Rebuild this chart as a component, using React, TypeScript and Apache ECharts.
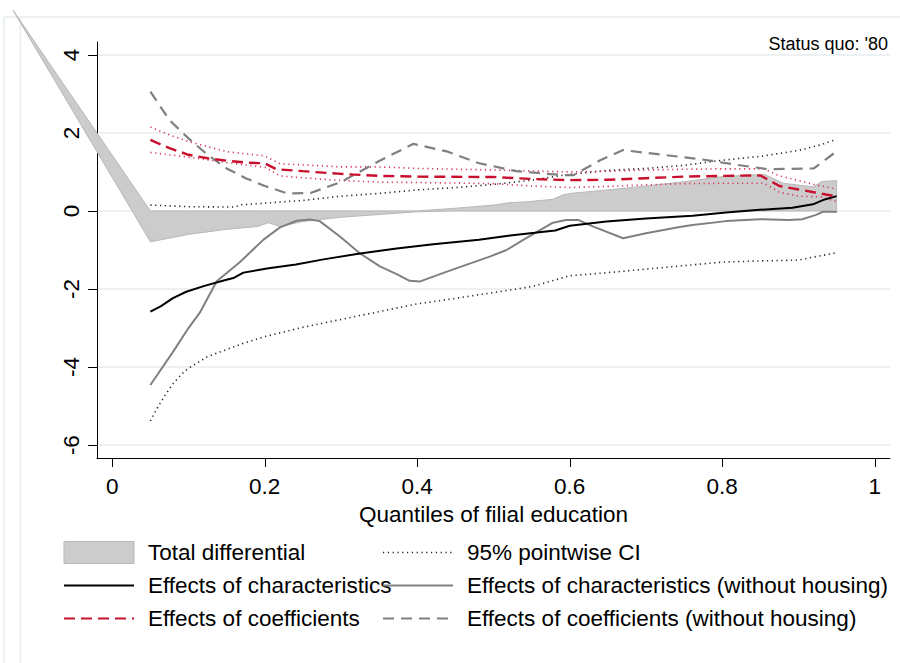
import React, { useEffect, useRef } from "react";
import * as echarts from "echarts";

const FONT = "'Liberation Sans', Arial, Helvetica, sans-serif";

const xTickValues = [0, 0.2, 0.4, 0.6, 0.8, 1];
const yTickValues = [-6, -4, -2, 0, 2, 4];

const legendLeft = ["Total differential", "Effects of characteristics", "Effects of coefficients"];
const legendRight = [
  "95% pointwise CI",
  "Effects of characteristics (without housing)",
  "Effects of coefficients (without housing)",
];

// Total differential band
const bandQuantiles = [-0.13, 0.05, 0.1, 0.15, 0.19, 0.205, 0.22, 0.25, 0.3, 0.35, 0.4, 0.45, 0.5, 0.52, 0.547, 0.578, 0.591, 0.6, 0.65, 0.7, 0.75, 0.8, 0.855, 0.88, 0.91, 0.92, 0.93, 0.95];
const bandUpper = [5.14, 0, 0, 0, 0, 0, 0, 0, 0, 0, 0, 0.07, 0.15, 0.21, 0.24, 0.3, 0.41, 0.45, 0.54, 0.64, 0.75, 0.88, 0.94, 0.71, 0.64, 0.62, 0.75, 0.78];
const bandLower = [5.14, -0.79, -0.6, -0.47, -0.4, -0.3, -0.4, -0.27, -0.16, -0.09, -0.02, 0, 0, 0, 0, 0, 0, 0, 0, 0, 0, 0, 0, 0, 0, 0, 0, -0.04];

const charEffects = [
  [0.05, -2.58], [0.064, -2.44], [0.079, -2.24], [0.097, -2.07], [0.121, -1.92], [0.145, -1.79],
  [0.16, -1.71], [0.172, -1.58], [0.205, -1.47], [0.241, -1.37], [0.277, -1.24], [0.325, -1.09],
  [0.373, -0.96], [0.421, -0.85], [0.481, -0.74], [0.517, -0.64], [0.554, -0.56], [0.581, -0.5],
  [0.6, -0.38], [0.648, -0.27], [0.7, -0.19], [0.761, -0.12], [0.805, -0.04], [0.849, 0.03],
  [0.892, 0.08], [0.919, 0.17], [0.932, 0.28], [0.95, 0.38],
];

const charEffectsNoHousing = [
  [0.05, -4.46], [0.079, -3.63], [0.1, -3.0], [0.115, -2.6], [0.137, -1.8], [0.168, -1.3],
  [0.198, -0.74], [0.22, -0.42], [0.242, -0.25], [0.259, -0.22], [0.272, -0.26], [0.299, -0.66],
  [0.325, -1.09], [0.351, -1.42], [0.373, -1.62], [0.39, -1.79], [0.403, -1.81], [0.438, -1.56],
  [0.464, -1.38], [0.495, -1.17], [0.517, -1.0], [0.539, -0.74], [0.561, -0.49], [0.578, -0.3],
  [0.595, -0.23], [0.611, -0.23], [0.631, -0.4], [0.67, -0.7], [0.7, -0.57], [0.744, -0.41],
  [0.761, -0.36], [0.805, -0.26], [0.849, -0.21], [0.888, -0.23], [0.905, -0.21], [0.923, -0.1],
  [0.932, -0.02], [0.95, -0.02],
];

const charCIUpper = [
  [0.05, 0.15], [0.1, 0.11], [0.16, 0.1], [0.17, 0.16], [0.25, 0.27], [0.3, 0.38], [0.35, 0.45],
  [0.4, 0.54], [0.45, 0.6], [0.5, 0.68], [0.55, 0.79], [0.6, 0.94], [0.65, 1.04], [0.7, 1.09],
  [0.75, 1.17], [0.8, 1.3], [0.85, 1.4], [0.9, 1.55], [0.93, 1.7], [0.95, 1.84],
];

const charCILower = [
  [0.05, -5.38], [0.055, -5.2], [0.06, -5.02], [0.07, -4.7], [0.08, -4.42], [0.09, -4.2],
  [0.1, -4.03], [0.125, -3.73], [0.15, -3.55], [0.175, -3.37], [0.2, -3.22], [0.25, -2.98],
  [0.3, -2.78], [0.35, -2.58], [0.4, -2.38], [0.45, -2.24], [0.5, -2.09], [0.55, -1.94],
  [0.575, -1.8], [0.6, -1.66], [0.65, -1.58], [0.7, -1.49], [0.75, -1.4], [0.8, -1.31],
  [0.85, -1.28], [0.9, -1.26], [0.92, -1.18], [0.95, -1.07],
];

const coefEffects = [
  [0.05, 1.82], [0.075, 1.61], [0.1, 1.44], [0.125, 1.35], [0.15, 1.29], [0.175, 1.24], [0.2, 1.22],
  [0.215, 1.07], [0.25, 1.02], [0.3, 0.95], [0.35, 0.9], [0.4, 0.88], [0.5, 0.87], [0.55, 0.82],
  [0.6, 0.79], [0.65, 0.8], [0.7, 0.84], [0.75, 0.88], [0.8, 0.9], [0.85, 0.91], [0.875, 0.64],
  [0.9, 0.55], [0.92, 0.48], [0.95, 0.37],
];

const coefCIUpper = [
  [0.05, 2.15], [0.075, 1.95], [0.1, 1.78], [0.15, 1.52], [0.2, 1.41], [0.22, 1.21], [0.3, 1.13],
  [0.35, 1.13], [0.4, 1.09], [0.5, 1.05], [0.6, 1.0], [0.65, 1.02], [0.7, 1.05], [0.75, 1.07],
  [0.8, 1.08], [0.855, 1.08], [0.875, 0.9], [0.9, 0.78], [0.92, 0.68], [0.95, 0.56],
];

const coefCILower = [
  [0.05, 1.5], [0.1, 1.38], [0.15, 1.24], [0.2, 1.12], [0.22, 0.9], [0.25, 0.85], [0.3, 0.78],
  [0.35, 0.74], [0.4, 0.73], [0.5, 0.7], [0.55, 0.64], [0.6, 0.6], [0.65, 0.63], [0.7, 0.67],
  [0.75, 0.7], [0.8, 0.71], [0.855, 0.71], [0.875, 0.48], [0.9, 0.38], [0.93, 0.36], [0.95, 0.24],
];

const coefEffectsNoHousing = [
  [0.05, 3.06], [0.075, 2.33], [0.1, 1.86], [0.125, 1.44], [0.15, 1.09], [0.175, 0.84], [0.2, 0.64],
  [0.23, 0.45], [0.26, 0.46], [0.3, 0.74], [0.35, 1.28], [0.395, 1.72], [0.44, 1.52], [0.48, 1.23],
  [0.53, 1.02], [0.59, 0.92], [0.605, 0.92], [0.64, 1.3], [0.67, 1.56], [0.7, 1.49], [0.77, 1.33],
  [0.82, 1.18], [0.86, 1.07], [0.92, 1.09], [0.95, 1.53],
];

const BLACK = "#000000";
const GRAY = "#808080";
const RED = "#c8102e";
const RED_DOT = "#d6335a";
const BAND_FILL = "#cccccc";
const BAND_EDGE = "#b8b8b8";
const GRID = "#e6eef1";
const FS = 22.5;

function lineSeries(name: string, data: number[][], color: string, width: number, type: any, z: number) {
  return {
    type: "line",
    name,
    data,
    symbol: "none",
    showSymbol: false,
    silent: true,
    clip: false,
    z,
    itemStyle: { color },
    lineStyle: { color, width, type },
    emphasis: { disabled: true },
  };
}

export default function App() {
  const ref = useRef<HTMLDivElement>(null);

  useEffect(() => {
    if (!ref.current) return;
    const chart = echarts.init(ref.current, undefined, { renderer: "svg" });

    const legendCommon = {
      orient: "vertical",
      top: 541,
      padding: 0,
      itemWidth: 70,
      itemHeight: 22,
      itemGap: 10,
      selectedMode: false,
      itemStyle: { opacity: 0 },
      textStyle: { fontSize: FS, lineHeight: 22.5, color: "#000", fontFamily: FONT, padding: [0, 0, 0, 9] },
    };

    const option: any = {
      animation: false,
      backgroundColor: "#ffffff",
      textStyle: { fontFamily: FONT },
      grid: { left: 97, right: 10, top: 42, bottom: 205, containLabel: false },
      xAxis: {
        type: "value",
        min: -0.02,
        max: 1.02,
        name: "Quantiles of filial education",
        nameLocation: "middle",
        nameGap: 33,
        nameTextStyle: { fontSize: FS, color: "#000", fontFamily: FONT },
        axisLine: { show: true, onZero: false, lineStyle: { color: BLACK, width: 1 } },
        axisTick: { show: true, length: 9, customValues: xTickValues, lineStyle: { color: BLACK, width: 1 } },
        axisLabel: { customValues: xTickValues, fontSize: FS, color: "#000", margin: 17, fontFamily: FONT },
        splitLine: { show: false },
      },
      yAxis: {
        type: "value",
        min: -6.33,
        max: 4.33,
        axisLine: { show: true, onZero: false, lineStyle: { color: BLACK, width: 1 } },
        axisTick: { show: true, length: 9, customValues: yTickValues, lineStyle: { color: BLACK, width: 1 } },
        axisLabel: { customValues: yTickValues, rotate: 90, fontSize: FS, color: "#000", margin: 14, fontFamily: FONT },
        splitLine: { show: true, lineStyle: { color: GRID, width: 1.5 } },
      },
      legend: [
        {
          ...legendCommon,
          left: 63,
          data: [
            {
              name: legendLeft[0],
              icon: "rect",
              itemStyle: { opacity: 1, color: BAND_FILL, borderColor: BAND_EDGE, borderWidth: 1 },
            },
            { name: legendLeft[1] },
            { name: legendLeft[2] },
          ],
        },
        {
          ...legendCommon,
          left: 382,
          data: [
            { name: legendRight[0], lineStyle: { width: 1.5 } },
            { name: legendRight[1] },
            { name: legendRight[2] },
          ],
        },
      ],
      graphic: [
        { type: "line", silent: true, shape: { x1: 4, y1: 17, x2: 900, y2: 17 }, style: { stroke: GRID, lineWidth: 1.5 } },
        { type: "line", silent: true, shape: { x1: 4, y1: 17, x2: 4, y2: 663 }, style: { stroke: GRID, lineWidth: 1.5 } },
        { type: "line", silent: true, shape: { x1: 20.5, y1: 17, x2: 20.5, y2: 663 }, style: { stroke: GRID, lineWidth: 1.5 } },
        {
          type: "text",
          silent: true,
          x: 888,
          y: 44,
          style: {
            text: "Status quo: '80",
            fontSize: 18,
            fontFamily: FONT,
            fill: "#000",
            textAlign: "right",
            textVerticalAlign: "middle",
          },
        },
      ],
      series: [
        {
          type: "custom",
          name: legendLeft[0],
          coordinateSystem: "cartesian2d",
          clip: false,
          silent: true,
          z: 1,
          itemStyle: { color: BAND_FILL },
          data: bandQuantiles.map((q, i) => [q, bandUpper[i], bandLower[i]]),
          encode: { x: 0, y: [1, 2] },
          renderItem: (params: any, api: any) => {
            if (params.dataIndex !== 0) return null;
            const top = bandQuantiles.map((q, i) => api.coord([q, bandUpper[i]]));
            const bottom = bandQuantiles.map((q, i) => api.coord([q, bandLower[i]])).reverse();
            return {
              type: "polygon",
              shape: { points: top.concat(bottom) },
              style: { fill: BAND_FILL, stroke: BAND_EDGE, lineWidth: 1 },
            };
          },
        },
        lineSeries(legendRight[0], charCIUpper, "#222222", 1.6, [1.2, 3.6], 2),
        lineSeries(legendRight[0], charCILower, "#222222", 1.6, [1.2, 3.6], 2),
        lineSeries("Coefficient CI upper", coefCIUpper, RED_DOT, 1.6, [1.2, 3.6], 2),
        lineSeries("Coefficient CI lower", coefCILower, RED_DOT, 1.6, [1.2, 3.6], 2),
        lineSeries(legendRight[1], charEffectsNoHousing, GRAY, 2, "solid", 3),
        lineSeries(legendRight[2], coefEffectsNoHousing, GRAY, 2.2, [11, 7], 3),
        lineSeries(legendLeft[1], charEffects, BLACK, 2, "solid", 4),
        lineSeries(legendLeft[2], coefEffects, RED, 2.4, [11, 6], 5),
      ],
    };

    chart.setOption(option);
    return () => {
      chart.dispose();
    };
  }, []);

  return (
    <div
      ref={ref}
      style={{ position: "fixed", left: 0, top: 0, width: 900, height: 663, background: "#fff" }}
    />
  );
}
